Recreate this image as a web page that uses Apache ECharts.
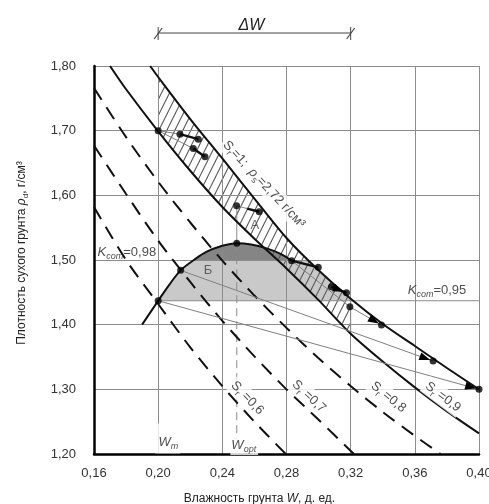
<!DOCTYPE html>
<html>
<head>
<meta charset="utf-8">
<script src="https://cdn.jsdelivr.net/npm/echarts@6.0.0/dist/echarts.min.js"></script>
<style>html,body{margin:0;padding:0;background:#fff;}#chart{width:489px;height:504px;}</style>
</head>
<body>
<div id="chart"></div>
<script>
// ---------- values ----------
const xTicks = [0.16, 0.20, 0.24, 0.28, 0.32, 0.36, 0.40];
const yTicks = [1.20, 1.30, 1.40, 1.50, 1.60, 1.70, 1.80];

// saturation lines  [W, rho_d]
const sr06 = [[0.160,1.582],[0.180,1.500],[0.200,1.432],[0.220,1.365],[0.240,1.305],[0.260,1.250],[0.2795,1.200]];
const sr07 = [[0.160,1.677],[0.180,1.602],[0.200,1.530],[0.220,1.466],[0.240,1.406],[0.260,1.351],[0.280,1.300],[0.300,1.253],[0.322,1.200]];
const sr08 = [[0.160,1.766],[0.180,1.690],[0.200,1.621],[0.220,1.558],[0.240,1.499],[0.260,1.445],[0.280,1.395],[0.300,1.348],[0.320,1.305],[0.340,1.265],[0.360,1.228],[0.376,1.200]];
const sr09 = [[0.170,1.800],[0.180,1.764],[0.200,1.699],[0.220,1.638],[0.240,1.582],[0.260,1.533],[0.280,1.487],[0.300,1.438],[0.320,1.386],[0.340,1.343],[0.360,1.303],[0.380,1.266],[0.400,1.232]];
const sr10 = [[0.195,1.800],[0.200,1.783],[0.220,1.718],[0.240,1.657],[0.260,1.595],[0.280,1.534],[0.300,1.484],[0.320,1.440],[0.340,1.401],[0.360,1.367],[0.380,1.333],[0.400,1.300]];

// compaction curve
const curveW   = [0.190,0.200,0.207,0.214,0.2223,0.230,0.240,0.249,0.258,0.2676,0.276,0.2832];
const curveRho = [1.400,1.437,1.462,1.484,1.500,1.5125,1.522,1.526,1.524,1.518,1.510,1.499];

// levels / verticals
const kcom95 = 1.437;
const kcom98 = 1.500;
const wOpt = 0.249;
const wOptTop = 1.5838;
const wOptBottom = 1.222;
const sr10At150 = 0.2936;
const hatchRange = [0.20, 0.32];

// measured points
const dotsW   = [0.200,0.2136,0.2250,0.2219,0.2292,0.2489,0.2630,0.200,0.214,0.249,0.2832,0.2998,0.3080,0.3174,0.3195,0.3392,0.3714,0.400];
const dotsRho = [1.700,1.6946,1.6869,1.6725,1.6595,1.5838,1.5745,1.437,1.484,1.526,1.499,1.4886,1.4587,1.4493,1.4277,1.3994,1.3437,1.300];

const thickSegs = [
  [[0.2136,1.6946],[0.2250,1.6869]],
  [[0.2219,1.6725],[0.2292,1.6595]],
  [[0.2555,1.5795],[0.2630,1.5745]],
  [[0.2832,1.4990],[0.2998,1.4886]]
];
const thinSegs = [
  [[0.200,1.700],[0.2136,1.6946]],
  [[0.200,1.700],[0.2219,1.6725]],
  [[0.2489,1.5838],[0.2555,1.5795]],
  [[0.2832,1.499],[0.3195,1.4277]]
];
const thinArrows = [
  [[0.200,1.437],[0.400,1.300]],
  [[0.214,1.484],[0.3714,1.3437]],
  [[0.3195,1.4277],[0.3392,1.3994]]
];
const thickArrows = [
  [[0.3080,1.4587],[0.3174,1.4493]]
];

// dimension ΔW above the plot
const deltaW = [0.20, 0.32, 1.851];

// text annotations
const labelText = {
  k98: '{i|K}{si|com}{n|=0,98}',
  k95: '{i|K}{si|com}{n|=0,95}',
  b:   '{g|Б}',
  a:   '{g|А}',
  s06: '{n|S}{s|r}{n| =0,6}',
  s07: '{n|S}{s|r}{n| =0,7}',
  s08: '{n|S}{s|r}{n| =0,8}',
  s09: '{n|S}{s|r}{n| =0,9}',
  s1:  '{n|S}{s|r}{n|=1;  }{i|ρ}{s|s}{n|=2,72 г/см³}',
  wm:  '{i|W}{si|m}',
  wopt:'{i|W}{si|opt}'
};
const labelPos = {
  k98: [0.1619,1.5122], k95: [0.3924,1.4535], b: [0.2310,1.4844], a: [0.2603,1.554],
  s06: [0.2556,1.2866], s07: [0.2940,1.2890], s08: [0.3435,1.2881], s09: [0.3775,1.2881],
  s1: [0.2660,1.617], wm: [0.1980,1.2240], wopt: [0.2447,1.2139]
};
const labelRot = { s06: -46, s07: -43, s08: -39, s09: -37, s1: -47 };

const yName = '{n|Плотность сухого грунта }{i|ρ}{s|d}{n|, г/см³}';
const xName = '{n|Влажность грунта }{i|W}{n|, д. ед.}';

// ---------- building the chart ----------
const FONT = '"Liberation Sans", Arial, sans-serif';
const TXT = '#222';
const fmt = v => (+v).toFixed(2).replace('.', ',');

function richSet(size) {
  return {
    n:  {fontSize: size, fontFamily: FONT, color: TXT, lineHeight: size + 5},
    i:  {fontSize: size, fontFamily: FONT, color: TXT, fontStyle: 'italic', lineHeight: size + 5},
    s:  {fontSize: size - 4, fontFamily: FONT, color: TXT, lineHeight: size - 3, verticalAlign: 'bottom'},
    si: {fontSize: size - 4, fontFamily: FONT, color: TXT, fontStyle: 'italic', lineHeight: size - 3, verticalAlign: 'bottom'},
    g:  {fontSize: size, fontFamily: FONT, color: '#444', lineHeight: size + 5}
  };
}
const rich13 = richSet(13);

// hatch pattern (steep "/" strokes)
const pc = document.createElement('canvas');
pc.width = 8; pc.height = 16;
const g = pc.getContext('2d');
g.strokeStyle = '#5c5c5c'; g.lineWidth = 1.1;
g.beginPath(); g.moveTo(0, 16); g.lineTo(8, 0); g.stroke();
g.beginPath(); g.moveTo(-1, 2); g.lineTo(1, -2); g.stroke();
g.beginPath(); g.moveTo(7, 18); g.lineTo(9, 14); g.stroke();
const hatchFill = {image: pc, repeat: 'repeat'};

const hatchPoly = sr09.filter(p => p[0] >= hatchRange[0] - 1e-9 && p[0] <= hatchRange[1] + 1e-9)
  .concat(sr10.filter(p => p[0] >= hatchRange[0] - 1e-9 && p[0] <= hatchRange[1] + 1e-9).reverse());

const curve = curveW.map((w, i) => [w, curveRho[i]]);
const darkPoly = curve.filter(p => p[1] >= kcom98 - 0.0015);
const lightPoly = curve.filter(p => p[1] >= kcom95 && p[1] <= kcom98 && p[0] <= 0.23)
  .concat([[sr10At150, kcom98]])
  .concat(sr10.filter(p => p[0] >= 0.30 && p[0] <= hatchRange[1] + 1e-9))
  .concat([[hatchRange[1], kcom95]]);

function polygonSeries(pts, fill, z) {
  return {
    type: 'custom', z: z, silent: true, data: [pts[0]],
    renderItem: (params, api) => ({
      type: 'polygon',
      shape: {points: pts.map(p => api.coord(p))},
      style: {fill: fill, stroke: null}
    })
  };
}
function lineSeries(data, color, width, type, z, smooth) {
  return {
    type: 'line', data: data, showSymbol: false, symbol: 'none', silent: true, z: z,
    smooth: smooth === undefined ? 0.3 : smooth,
    lineStyle: {color: color, width: width, type: type}
  };
}
function segSeries(segs, color, width, z) {
  return {
    type: 'custom', z: z, silent: true,
    data: segs.map(s => [s[0][0], s[0][1], s[1][0], s[1][1]]),
    encode: {x: [0, 2], y: [1, 3]},
    renderItem: (params, api) => {
      const a = api.coord([api.value(0), api.value(1)]);
      const b = api.coord([api.value(2), api.value(3)]);
      return {type: 'line', shape: {x1: a[0], y1: a[1], x2: b[0], y2: b[1]},
        style: {stroke: color, lineWidth: width}};
    }
  };
}
function arrowSeries(segs, color, width, z) {
  return {
    type: 'custom', z: z, silent: true,
    data: segs.map(s => [s[0][0], s[0][1], s[1][0], s[1][1]]),
    encode: {x: [0, 2], y: [1, 3]},
    renderItem: (params, api) => {
      const a = api.coord([api.value(0), api.value(1)]);
      const b = api.coord([api.value(2), api.value(3)]);
      const dx = b[0] - a[0], dy = b[1] - a[1], L = Math.hypot(dx, dy);
      const ux = dx / L, uy = dy / L, nx = -uy, ny = ux;
      const tip = [b[0] - ux * 3, b[1] - uy * 3];
      const base = [tip[0] - ux * 11, tip[1] - uy * 11];
      return {type: 'group', children: [
        {type: 'line', shape: {x1: a[0], y1: a[1], x2: b[0], y2: b[1]}, style: {stroke: color, lineWidth: width}},
        {type: 'polygon', shape: {points: [tip, [base[0] + nx * 4, base[1] + ny * 4], [base[0] - nx * 4, base[1] - ny * 4]]},
          style: {fill: '#000'}}
      ]};
    }
  };
}

function labelItem(key, extra) {
  return {
    value: labelPos[key],
    label: Object.assign({
      show: true, formatter: labelText[key], position: 'inside',
      rotate: labelRot[key] || 0, rich: rich13
    }, extra || {})
  };
}
const labelData = [
  labelItem('k98', {position: 'right', distance: 0}),
  labelItem('k95', {position: 'left', distance: 0}),
  labelItem('b'),
  labelItem('a'),
  labelItem('s06', {backgroundColor: '#fff', padding: [0, 2]}),
  labelItem('s07', {backgroundColor: '#fff', padding: [0, 2]}),
  labelItem('s08', {backgroundColor: '#fff', padding: [0, 2]}),
  labelItem('s09', {backgroundColor: '#fff', padding: [0, 2]}),
  labelItem('s1', {backgroundColor: '#fff', padding: [0, 2]}),
  labelItem('wm', {position: 'right', distance: 0, backgroundColor: '#fff', padding: [10, 2, 2, 3]}),
  labelItem('wopt', {position: 'right', distance: 0, backgroundColor: '#fff', padding: [1, 2, 1, 1]})
];

const chart = echarts.init(document.getElementById('chart'), null, {renderer: 'canvas'});
const option = {
  animation: false,
  backgroundColor: '#fff',
  grid: {left: 94, right: 10, top: 66, bottom: 50, containLabel: false, outerBoundsMode: 'none'},
  xAxis: {
    type: 'value', min: xTicks[0], max: xTicks[xTicks.length - 1],
    interval: +(xTicks[1] - xTicks[0]).toFixed(2),
    axisLine: {show: true, onZero: false, lineStyle: {color: '#000', width: 2.5}},
    axisTick: {show: false},
    axisLabel: {formatter: fmt, margin: 13, fontSize: 13, color: '#333', fontFamily: FONT},
    splitLine: {show: true, lineStyle: {color: '#8c8c8c', width: 1}},
    name: xName, nameLocation: 'middle', nameGap: 36,
    nameTextStyle: {rich: richSet(12), padding: [0, 54, 0, 0]}
  },
  yAxis: {
    type: 'value', min: yTicks[0], max: yTicks[yTicks.length - 1],
    interval: +(yTicks[1] - yTicks[0]).toFixed(2),
    axisLine: {show: true, onZero: false, lineStyle: {color: '#000', width: 2.5}},
    axisTick: {show: false},
    axisLabel: {formatter: fmt, margin: 18, fontSize: 13, color: '#333', fontFamily: FONT},
    splitLine: {show: true, lineStyle: {color: '#8c8c8c', width: 1}},
    name: yName, nameLocation: 'middle', nameGap: 64,
    nameTextStyle: {rich: richSet(12), padding: [0, 0, 0, 14]}
  },
  series: [
    polygonSeries(lightPoly, '#c9c9c9', -2),
    polygonSeries(darkPoly, '#858585', -2),
    polygonSeries(hatchPoly, hatchFill, -1),
    lineSeries([[hatchRange[0], kcom95], [xTicks[xTicks.length - 1], kcom95]], '#8c8c8c', 1, 'solid', 2, false),
    lineSeries([[wOpt, wOptTop], [wOpt, curveRho[7]]], '#8c8c8c', 1, 'solid', 2, false),
    lineSeries([[wOpt, curveRho[7]], [wOpt, wOptBottom]], '#8c8c8c', 1, [8, 5], 2, false),
    segSeries([[[hatchRange[1], sr09[8][1]], [hatchRange[1], sr10[7][1]]]], '#8c8c8c', 1, 2),
    lineSeries(sr06, '#111', 2, [14, 9], 3),
    lineSeries(sr07, '#111', 2, [14, 9], 3),
    lineSeries(sr08, '#111', 2, [14, 9], 3),
    lineSeries(sr09, '#111', 2, 'solid', 3),
    lineSeries(sr10, '#111', 2, 'solid', 3),
    lineSeries(curve, '#111', 2, 'solid', 4, 0.35),
    segSeries(thinSegs, '#808080', 1, 4),
    arrowSeries(thinArrows, '#808080', 1, 4),
    segSeries(thickSegs, '#111', 2.5, 5),
    arrowSeries(thickArrows, '#111', 2.5, 5),
    {
      type: 'scatter', z: 6, silent: true, symbolSize: 7,
      itemStyle: {color: '#000'},
      data: dotsW.map((w, i) => [w, dotsRho[i]])
    },
    {
      type: 'custom', z: 7, silent: true, clip: false,
      data: [deltaW],
      encode: {x: [0, 1], y: 2},
      renderItem: (params, api) => {
        const a = api.coord([api.value(0), api.value(2)]);
        const b = api.coord([api.value(1), api.value(2)]);
        const c = '#444';
        const kids = [{type: 'line', shape: {x1: a[0], y1: a[1], x2: b[0], y2: b[1]}, style: {stroke: c, lineWidth: 1}}];
        [a, b].forEach(p => {
          kids.push({type: 'line', shape: {x1: p[0], y1: p[1] - 6, x2: p[0], y2: p[1] + 7}, style: {stroke: c, lineWidth: 1}});
          kids.push({type: 'line', shape: {x1: p[0] - 4, y1: p[1] + 6, x2: p[0] + 4, y2: p[1] - 5}, style: {stroke: c, lineWidth: 1.2}});
        });
        kids.push({type: 'text', x: (a[0] + b[0]) / 2 - 3, y: a[1] - 7,
          style: {text: 'ΔW', fontSize: 16, fontStyle: 'italic', fontFamily: FONT, fill: '#222', align: 'center', verticalAlign: 'middle'}});
        return {type: 'group', children: kids};
      }
    },
    {
      type: 'scatter', z: 8, silent: true, symbolSize: 1,
      itemStyle: {color: 'rgba(0,0,0,0)'},
      data: labelData
    }
  ]
};
chart.setOption(option);
</script>
</body>
</html>
